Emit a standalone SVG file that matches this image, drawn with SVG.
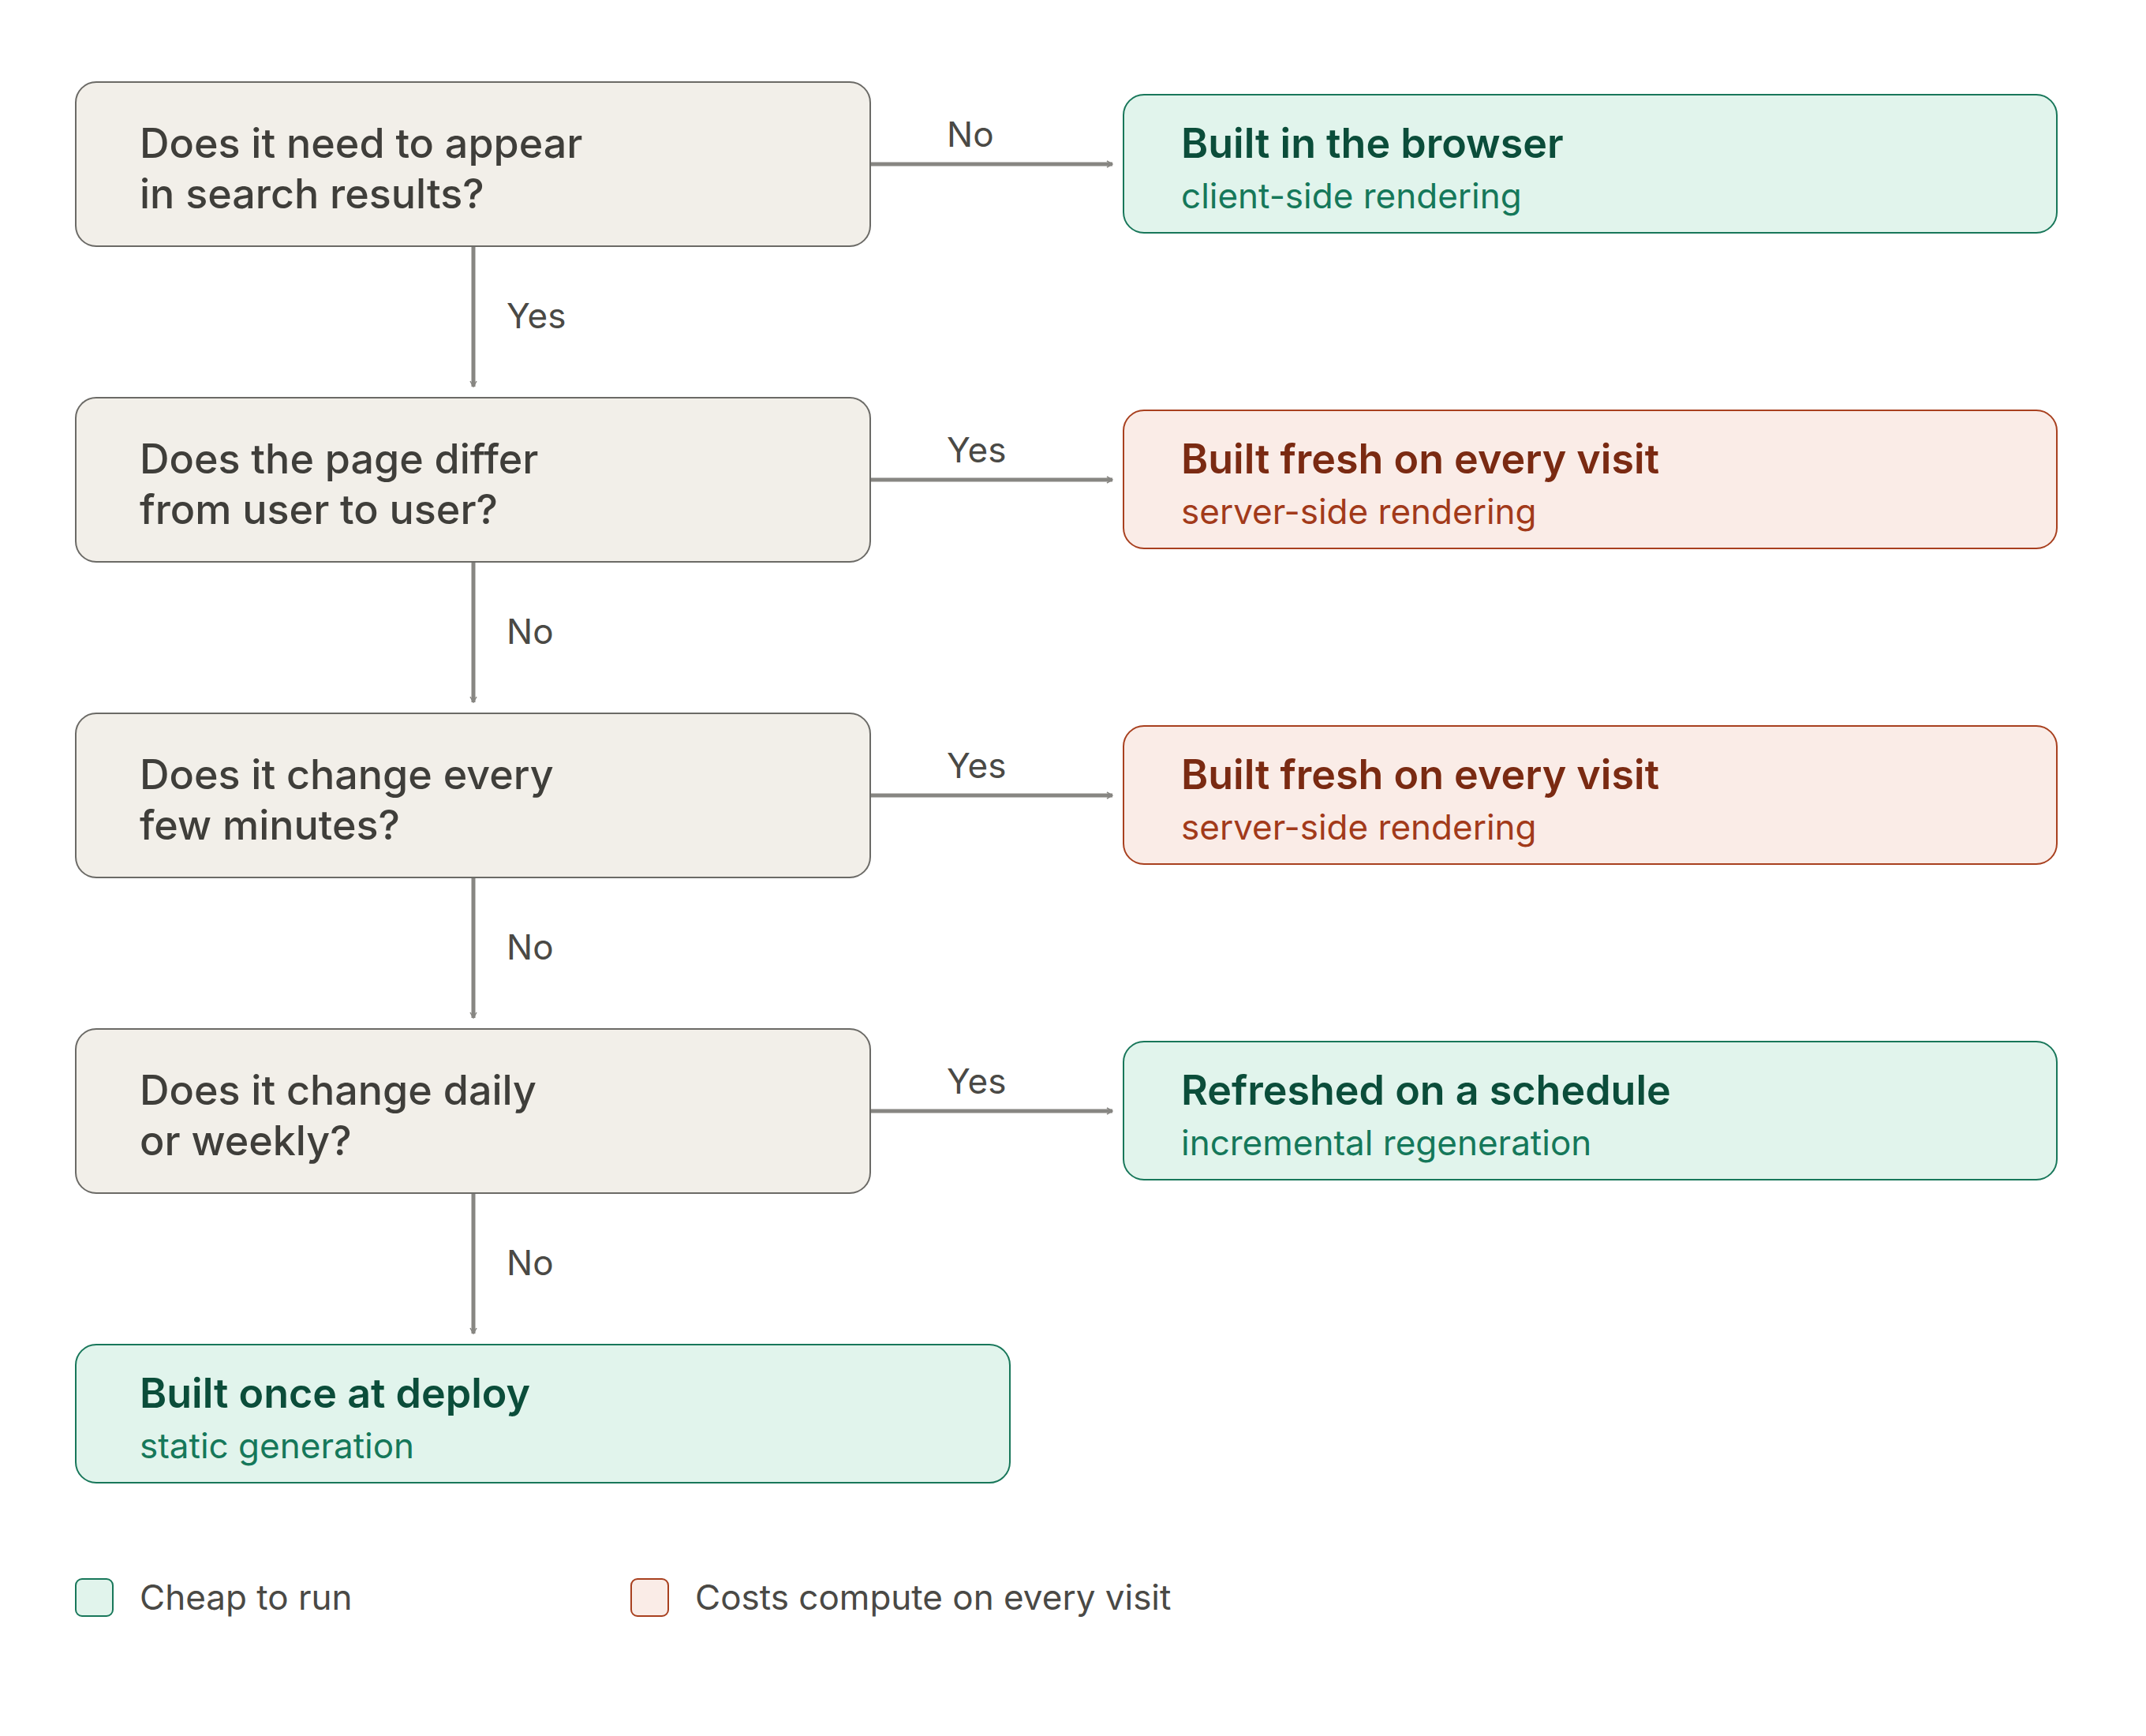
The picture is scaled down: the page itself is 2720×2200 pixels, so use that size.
<svg xmlns="http://www.w3.org/2000/svg" width="2720" height="2200" viewBox="0 0 2720 2200">
<style>
.q{fill:#f2efe9;stroke:#6b6a66;stroke-width:2}
.g{fill:#e1f4ec;stroke:#18775a;stroke-width:2}
.r{fill:#faece7;stroke:#a8401f;stroke-width:2}
.qt{font-family:Inter,"Liberation Sans",sans-serif;font-size:52px;font-weight:500;fill:#3f3e3a}
.gt{font-family:Inter,"Liberation Sans",sans-serif;font-size:52px;font-weight:600;fill:#0b4d3a}
.gs{font-family:Inter,"Liberation Sans",sans-serif;font-size:44px;fill:#15785a}
.rt{font-family:Inter,"Liberation Sans",sans-serif;font-size:52px;font-weight:600;fill:#7a2a12}
.rs{font-family:Inter,"Liberation Sans",sans-serif;font-size:44px;fill:#a23a1a}
.lb{font-family:Inter,"Liberation Sans",sans-serif;font-size:44px;fill:#4a4945}
.c{stroke:#878682;stroke-width:5;fill:none}
</style>
<defs><marker id="a" viewBox="0 0 20 20" refX="18" refY="10" markerWidth="10" markerHeight="10" markerUnits="userSpaceOnUse" orient="auto"><path d="M4 2 L18 10 L4 18" fill="none" stroke="#878682" stroke-width="3"/></marker></defs>
<rect width="2720" height="2200" fill="#fff"/>
<g id="connectors">
<path class="c" d="M1103 208H1410" marker-end="url(#a)"/>
<path class="c" d="M1103 608H1410" marker-end="url(#a)"/>
<path class="c" d="M1103 1008H1410" marker-end="url(#a)"/>
<path class="c" d="M1103 1408H1410" marker-end="url(#a)"/>
<path class="c" d="M600 312V490" marker-end="url(#a)"/>
<path class="c" d="M600 712V890" marker-end="url(#a)"/>
<path class="c" d="M600 1112V1290" marker-end="url(#a)"/>
<path class="c" d="M600 1512V1690" marker-end="url(#a)"/>
<text class="lb" x="1200" y="186">No</text>
<text class="lb" x="1200" y="586">Yes</text>
<text class="lb" x="1200" y="986">Yes</text>
<text class="lb" x="1200" y="1386">Yes</text>
<text class="lb" x="642" y="416">Yes</text>
<text class="lb" x="642" y="816">No</text>
<text class="lb" x="642" y="1216">No</text>
<text class="lb" x="642" y="1616">No</text>
</g>
<g id="q1"><rect class="q" x="96" y="104" width="1007" height="208" rx="26"/><text class="qt" x="177" y="200">Does it need to appear</text><text class="qt" x="177" y="264">in search results?</text></g>
<g id="q2"><rect class="q" x="96" y="504" width="1007" height="208" rx="26"/><text class="qt" x="177" y="600">Does the page differ</text><text class="qt" x="177" y="664">from user to user?</text></g>
<g id="q3"><rect class="q" x="96" y="904" width="1007" height="208" rx="26"/><text class="qt" x="177" y="1000">Does it change every</text><text class="qt" x="177" y="1064">few minutes?</text></g>
<g id="q4"><rect class="q" x="96" y="1304" width="1007" height="208" rx="26"/><text class="qt" x="177" y="1400">Does it change daily</text><text class="qt" x="177" y="1464">or weekly?</text></g>
<g id="csr"><rect class="g" x="1424" y="120" width="1183" height="175" rx="26"/><text class="gt" x="1497" y="200">Built in the browser</text><text class="gs" x="1497" y="264">client-side rendering</text></g>
<g id="ssr1"><rect class="r" x="1424" y="520" width="1183" height="175" rx="26"/><text class="rt" x="1497" y="600">Built fresh on every visit</text><text class="rs" x="1497" y="664">server-side rendering</text></g>
<g id="ssr2"><rect class="r" x="1424" y="920" width="1183" height="175" rx="26"/><text class="rt" x="1497" y="1000">Built fresh on every visit</text><text class="rs" x="1497" y="1064">server-side rendering</text></g>
<g id="isr"><rect class="g" x="1424" y="1320" width="1183" height="175" rx="26"/><text class="gt" x="1497" y="1400">Refreshed on a schedule</text><text class="gs" x="1497" y="1464">incremental regeneration</text></g>
<g id="ssg"><rect class="g" x="96" y="1704" width="1184" height="175" rx="26"/><text class="gt" x="177" y="1784">Built once at deploy</text><text class="gs" x="177" y="1848">static generation</text></g>
<g id="legend">
<rect class="g" x="96" y="2001" width="47" height="47" rx="8"/><text class="lb" x="177" y="2040">Cheap to run</text>
<rect class="r" x="800" y="2001" width="47" height="47" rx="8"/><text class="lb" x="881" y="2040">Costs compute on every visit</text>
</g>
</svg>
